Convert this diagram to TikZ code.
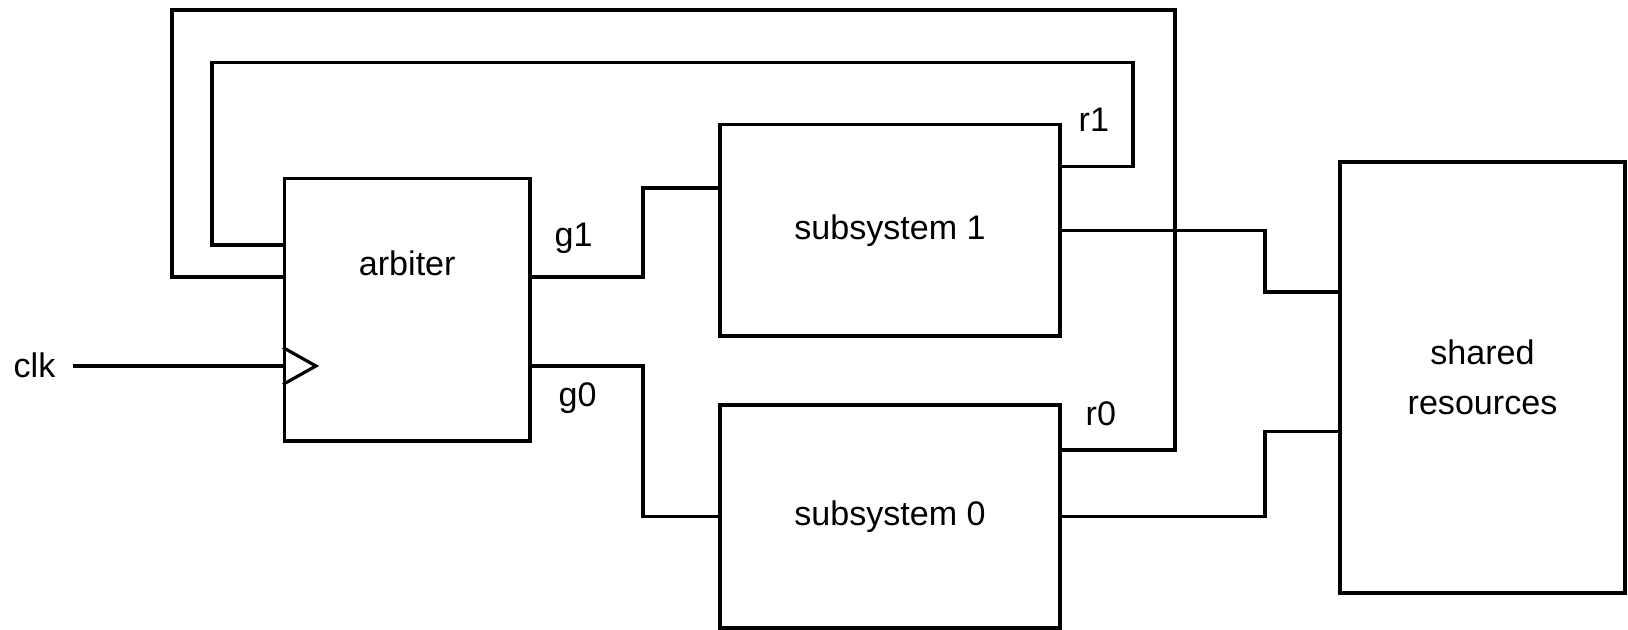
\documentclass[tikz,border=0pt]{standalone}
\usepackage{fontspec}
\setmainfont{Liberation Sans}
\begin{document}
\begin{tikzpicture}[
      block/.style={rectangle, draw, line width=0.9pt, inner sep=0pt, align=center,
        font=\fontsize{9.7}{14.2}\selectfont},
      wire/.style={line width=0.9pt},
      lbl/.style={inner sep=0pt, font=\fontsize{9.7}{14.2}\selectfont}
    ]
      \useasboundingbox (0,0) rectangle (16.28,-6.30);

      \node[block, minimum width=2.455cm, minimum height=2.625cm] (arb) at (4.0725,-3.0975) {};
      \node[lbl, anchor=base] (arbtxt) at ([yshift=-0.99cm]arb.north) {arbiter};
      \node[block, minimum width=3.40cm, minimum height=2.115cm] (sub1) at (8.90,-2.3025) {subsystem 1};
      \node[block, minimum width=3.40cm, minimum height=2.23cm] (sub0) at (8.90,-5.165) {subsystem 0};
      \node[block, minimum width=2.85cm, minimum height=4.31cm] (res) at (14.825,-3.775) {shared\\resources};

      % clock input
      \coordinate (clkin) at (0.73,-3.66);
      \node[lbl, anchor=base west] (clk) at (0.13,-3.78) {clk};
      \draw[wire] (clkin) -- (arb.west |- clkin);
      \draw[wire] ([yshift=0.185cm]arb.west |- clkin) -- ++(0.33,-0.185) -- ++(-0.33,-0.185);

      % grants
      \draw[wire] (arb.east |- 0,-2.77) -| (6.43,-1.88) -- (sub1.west |- 0,-1.88);
      \draw[wire] (arb.east |- 0,-3.66) -| (6.43,-5.165) -- (sub0.west);
      \node[lbl, anchor=base west] (g1) at (5.54,-2.47) {g1};
      \node[lbl, anchor=base west] (g0) at (5.58,-4.07) {g0};

      % requests
      \draw[wire] (sub1.east |- 0,-1.667) -| (11.33,-0.625) -| (2.12,-2.45) -- (arb.west |- 0,-2.45);
      \draw[wire] (sub0.east |- 0,-4.50) -| (11.75,-0.10) -| (1.72,-2.77) -- (arb.west |- 0,-2.77);
      \node[lbl, anchor=base west] (r1) at (10.78,-1.32) {r1};
      \node[lbl, anchor=base west] (r0) at (10.85,-4.26) {r0};

      % to shared resources
      \draw[wire] (sub1.east) -| (12.65,-2.92) -- (res.west |- 0,-2.92);
      \draw[wire] (sub0.east) -| (12.65,-4.317) -- (res.west |- 0,-4.317);
    \end{tikzpicture}
\end{document}
